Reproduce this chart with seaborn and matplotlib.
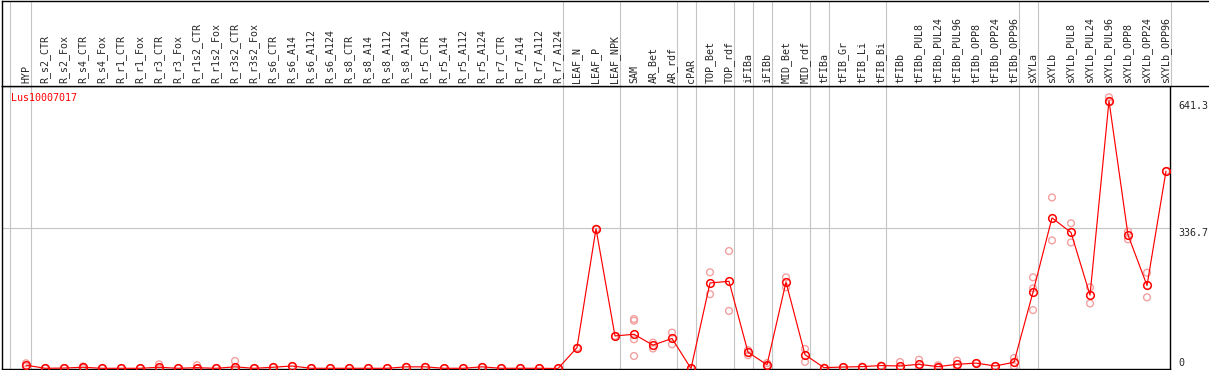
import numpy as np
import pandas as pd
import matplotlib
matplotlib.use("Agg")
import matplotlib.pyplot as plt
import seaborn as sns

# sample names along the top
samples = [
    "HYP", "R_s2_CTR", "R_s2_Fox", "R_s4_CTR", "R_s4_Fox", "R_r1_CTR", "R_r1_Fox",
    "R_r3_CTR", "R_r3_Fox", "R_r1s2_CTR", "R_r1s2_Fox", "R_r3s2_CTR", "R_r3s2_Fox",
    "R_s6_CTR", "R_s6_A14", "R_s6_A112", "R_s6_A124", "R_s8_CTR", "R_s8_A14",
    "R_s8_A112", "R_s8_A124", "R_r5_CTR", "R_r5_A14", "R_r5_A112", "R_r5_A124",
    "R_r7_CTR", "R_r7_A14", "R_r7_A112", "R_r7_A124", "LEAF_N", "LEAF_P", "LEAF_NPK",
    "SAM", "AR_Bet", "AR_rdf", "cPAR", "TOP_Bet", "TOP_rdf", "iFIBa", "iFIBb",
    "MID_Bet", "MID_rdf", "tFIBa", "tFIB_Gr", "tFIB_Li", "tFIB_Bi", "tFIBb",
    "tFIBb_PUL8", "tFIBb_PUL24", "tFIBb_PUL96", "tFIBb_OPP8", "tFIBb_OPP24",
    "tFIBb_OPP96", "sXYLa", "sXYLb", "sXYLb_PUL8", "sXYLb_PUL24", "sXYLb_PUL96",
    "sXYLb_OPP8", "sXYLb_OPP24", "sXYLb_OPP96",
]

# mean expression per sample
mean_expr = [
    8, 0.5, 1, 3, 0.5, 0.5, 0.5, 3, 0.5, 2, 0.5, 4, 0.5, 3, 6, 0.5, 0.5, 0.5, 0.5,
    0.5, 4, 4, 0.5, 0.5, 4, 0.5, 0.5, 0.5, 0,
    50, 335, 78, 82, 56, 72, 0, 205, 209, 39, 9, 207, 33,
    2, 3.5, 4.5, 7, 6, 10, 4.5, 10, 13, 6, 15,
    183, 361, 326, 176, 641.3, 320, 199, 473,
]

# individual replicates per sample
replicates = [
    [12.5, 5], [0.5], [1], [5, 1], [0.5], [0.5], [0.5], [10, 0], [0.5], [8, 0],
    [0.5], [18, 0], [0.5], [3], [6], [0.5], [0.5], [0.5], [0.5], [0.5], [4], [4],
    [0.5], [0.5], [4], [0.5], [0.5], [0.5], [0],
    [50], [335], [78], [118.6, 114.5, 70, 30], [62, 48], [86, 58], [0],
    [230.5, 178], [281.6, 138], [44, 32], [13, 6], [218.5, 194.6], [47, 16],
    [2], [3.5], [4.5], [7], [15.5, 0], [21, 2], [7.7, 2], [19, 2], [13], [6], [25, 5],
    [218.5, 192, 140], [410, 307], [348, 302], [194.6, 156], [650, 638.6],
    [328, 309.6], [229.6, 170.6], [473],
]

# last sample index of each tissue group
group_ends = [0, 28, 31, 34, 35, 37, 38, 39, 41, 42, 45, 52, 53, 60]

gene_name = "Lus10007017"
tick_values = [0, 336.7, 641.3]

idx = np.arange(len(samples))
df_mean = pd.DataFrame({"idx": idx, "expr": mean_expr})
df_rep = pd.DataFrame(
    [(i, v) for i, reps in enumerate(replicates) for v in reps],
    columns=["idx", "expr"],
)

sns.set_style("white")
plt.rcParams["font.family"] = ["DejaVu Sans Mono"]

W, H = 1209, 370
fig = plt.figure(figsize=(W / 100, H / 100), dpi=100)
ax = fig.add_axes([2 / W, 1 / H, 1168 / W, 283 / H])
ax_lab = fig.add_axes([2 / W, (H - 86) / H, 1206.5 / W, 85.5 / H])

x_left = (2 - 26) / 19
ax.set_xlim(x_left, (1170 - 26) / 19)
ax.set_ylim(-1.2, 677)
ax_lab.set_xlim(x_left, (1208.5 - 26) / 19)
ax_lab.set_ylim(0, 1)

grey = "#c4c4c4"
for a in (ax, ax_lab):
    a.axvline(-0.84, color=grey, lw=0.8, zorder=0)
    for g in group_ends:
        a.axvline(g + 0.25, color=grey, lw=0.8, zorder=0)
ax.axhline(336.7, color=grey, lw=0.8, zorder=0)

# replicates (light) then the mean line
sns.scatterplot(data=df_rep, x="idx", y="expr", ax=ax, marker="o", s=24,
                facecolors="none", edgecolor="#f2a0a0", linewidth=1.0, zorder=2)
sns.lineplot(data=df_mean, x="idx", y="expr", ax=ax, color="red", linewidth=0.85,
             marker="o", markersize=5.5, markerfacecolor="none",
             markeredgecolor="red", markeredgewidth=1.1, zorder=3)

ax.set_xlabel("")
ax.set_ylabel("")
ax.set_xticks([])
ax.set_yticks([])
for s in ax.spines.values():
    s.set_color("black")
    s.set_linewidth(1.0)

ax.text(9 / 1168, 1 - 7 / 283, gene_name, transform=ax.transAxes, color="red",
        fontsize=7.2, ha="left", va="top")

ytr = ax.get_yaxis_transform()
ax.text(1.0068, 641.3, f"{tick_values[2]}", transform=ytr, fontsize=7.2,
        ha="left", va="top", clip_on=False)
ax.text(1.0068, 336.7, f"{tick_values[1]}", transform=ytr, fontsize=7.2,
        ha="left", va="top", clip_on=False)
ax.text(1.0068, 14, f"{tick_values[0]}", transform=ytr, fontsize=7.2,
        ha="left", va="center", clip_on=False)

# rotated sample labels
xtr = ax_lab.get_xaxis_transform()
for i, name in enumerate(samples):
    ax_lab.text(i, 3 / 86, name, transform=xtr, rotation=90, fontsize=7.2,
                ha="center", va="bottom")

ax_lab.set_xticks([])
ax_lab.set_yticks([])
ax_lab.spines["right"].set_visible(False)
for s in ("top", "left", "bottom"):
    ax_lab.spines[s].set_color("black")
    ax_lab.spines[s].set_linewidth(1.0)

fig.savefig("out.png", dpi=100)
